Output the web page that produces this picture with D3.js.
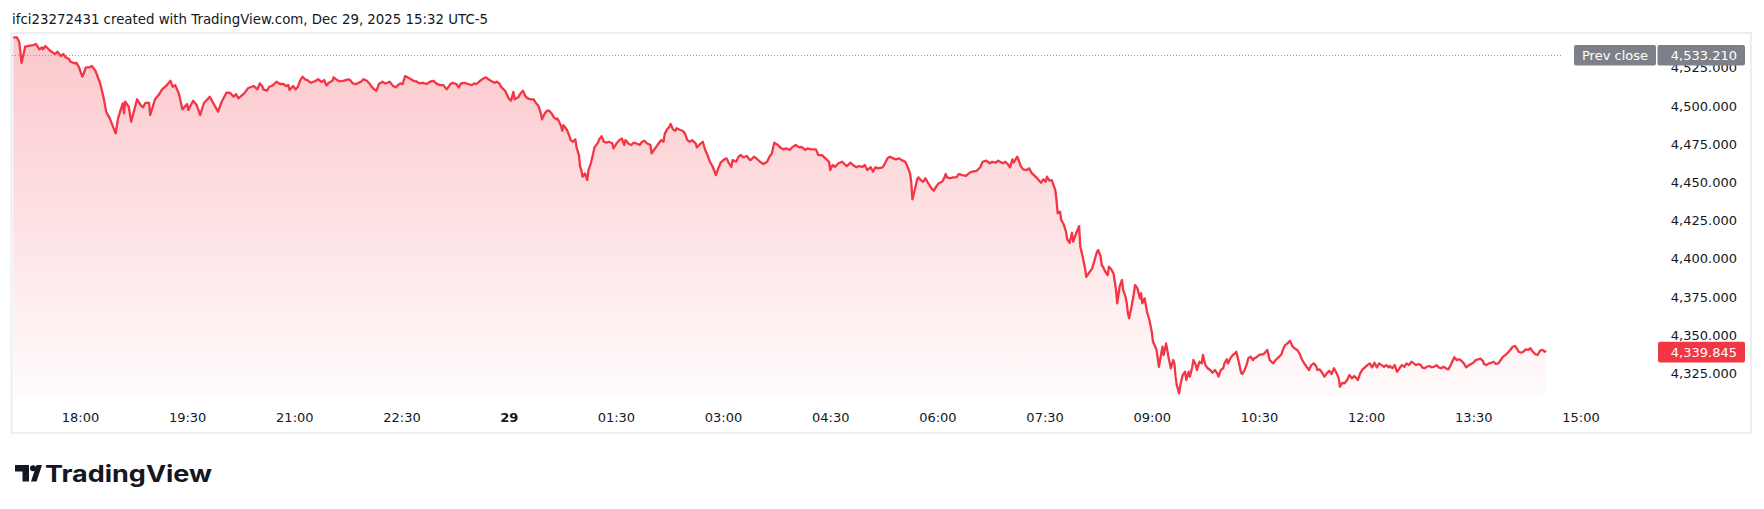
<!DOCTYPE html>
<html>
<head>
<meta charset="utf-8">
<script src="https://cdn.jsdelivr.net/npm/d3@7"></script>
<style>
  html, body { margin: 0; background: #ffffff; }
  svg { display: block; }
</style>
</head>
<body>
<div id="chart"></div>
<script>
// ---- data ------------------------------------------------------------------
// session starts Dec 28 17:00 (UTC-5); series = [minutes since start, price]
const sessionStart = new Date(2025, 11, 28, 17, 0);
const sessionEnd = new Date(2025, 11, 29, 15, 0);
const prevClose = 4533.21;
const lastPrice = 4339.845;
const priceTicks = [4325, 4350, 4375, 4400, 4425, 4450, 4475, 4500, 4525];
const timeLabels = ["18:00", "19:30", "21:00", "22:30", "29", "01:30", "03:00", "04:30",
  "06:00", "07:30", "09:00", "10:30", "12:00", "13:30", "15:00"];
const title = "ifci23272431 created with TradingView.com, Dec 29, 2025 15:32 UTC-5";

const series = [
  [4,4544.9],[7,4544.9],[9,4542.1],[11,4528.3],[14,4538.8],[17,4539.3],[21,4539.9],[23,4540.6],
  [26,4537.1],[28,4538.4],[29,4537.1],[31,4539.3],[35,4536.2],[39,4534.0],[41,4535.5],[44,4532.7],
  [46,4534.0],[48,4531.9],[51,4530.6],[52,4529.0],[56,4527.9],[57,4528.3],[59,4525.7],[62,4519.2],
  [63,4520.9],[65,4525.3],[68,4525.3],[70,4526.2],[73,4523.1],[77,4514.8],[80,4505.0],[82,4496.3],
  [85,4491.9],[90,4482.1],[92,4491.9],[95,4499.5],[96,4501.8],[97,4495.2],[98,4502.8],[101,4499.5],
  [103,4489.7],[106,4498.5],[108,4504.4],[111,4500.6],[113,4499.1],[115,4502.1],[118,4502.1],[119,4494.1],
  [123,4504.4],[126,4507.2],[129,4510.9],[133,4513.7],[136,4516.5],[138,4512.6],[140,4513.7],[143,4508.3],
  [146,4497.8],[150,4501.3],[151,4497.4],[155,4503.5],[158,4500.6],[161,4494.1],[164,4501.8],[169,4506.1],
  [172,4501.8],[176,4496.3],[179,4502.8],[183,4508.7],[186,4508.7],[189,4506.1],[191,4507.8],[193,4505.0],
  [198,4508.3],[201,4511.6],[206,4513.1],[209,4510.9],
  [211,4514.8],[213,4513.1],[214,4510.9],[217,4510.0],[219,4512.6],[221,4513.1],[223,4514.4],[225,4515.9],
  [228,4514.4],[231,4514.4],[233,4513.1],[235,4513.7],[236,4510.5],[239,4513.1],[241,4510.9],[243,4512.6],
  [245,4517.0],[247,4519.2],[249,4517.5],[251,4517.0],[254,4515.2],[256,4515.9],[258,4516.5],[260,4517.5],
  [263,4515.7],[265,4517.0],[267,4513.5],[269,4515.2],[272,4516.5],[273,4518.8],[276,4517.0],[278,4516.1],
  [281,4516.5],[283,4517.0],[285,4517.5],[287,4517.0],[289,4514.8],[292,4514.4],[294,4515.2],[296,4515.9],
  [298,4517.5],[301,4516.5],[303,4514.8],[305,4512.6],[307,4510.9],[309,4510.0],[311,4514.4],[314,4515.9],
  [316,4514.8],[318,4515.2],[320,4515.9],[323,4513.1],[325,4512.2],[327,4513.7],[329,4514.8],[331,4514.4],
  [333,4519.6],[335,4518.8],[338,4517.5],[340,4516.5],[343,4515.9],[345,4514.8],[348,4515.2],[351,4514.4],
  [354,4515.9],[357,4516.5],[359,4514.8],[362,4513.7],[365,4513.7],[368,4510.9],[371,4514.4],[373,4515.2],
  [376,4514.4],[378,4512.2],[380,4514.8],[383,4515.2],[386,4514.4],[389,4513.7],[391,4514.8],[393,4514.4],
  [396,4516.5],[399,4518.1],[401,4518.8],[403,4517.5],[405,4516.5],[408,4515.2],[410,4515.9],[412,4514.8],
  [414,4512.2],[417,4510.0],[418,4508.3],[420,4505.0],[422,4503.5],[424,4509.3],[425,4504.4],[428,4505.7],
  [430,4508.3],[432,4510.0],[434,4506.5],[436,4505.0],[438,4504.4],[441,4504.4],[443,4501.8],[445,4500.0],
  [447,4495.2],[448,4491.3],[450,4494.7],[452,4496.9],[454,4496.9],[456,4495.2],[458,4492.6],[460,4491.3],
  [461,4491.9],[464,4486.9],[465,4483.8],[466,4487.5],[469,4484.3],[471,4480.3],[472,4477.7],[474,4476.6],
  [476,4478.2],[477,4472.9],[479,4467.9],[480,4460.2],[481,4458.1],[482.5,4453.7],[484,4455.9],[486,4451.5],
  [487.5,4458.1],[489,4462.5],[491,4469.0],[492.5,4472.9],[495,4476.0],[496.5,4478.2],[498,4480.3],[500,4476.6],
  [502,4476.0],[504,4476.6],[507,4475.6],[508,4472.3],[511,4476.0],[513,4477.7],[515,4478.8],[517,4474.5],
  [518,4477.7],[521,4475.1],[523,4474.5],[525,4476.0],[527,4475.6],[530,4474.5],[532,4476.6],[534,4477.3],
  [536,4475.6],[539,4474.5],[540,4469.0],[542,4471.2],[543.5,4472.3],[546,4475.6],[548,4477.7],[550,4476.6],
  [551,4481.6],[553,4484.7],[555,4486.4],[556.5,4488.2],[558,4484.7],[560,4483.8],[561.5,4485.4],[564,4484.3],
  [566,4483.8],[568,4482.1],[570,4477.7],[572,4476.6],[574,4477.7],[577,4475.6],[578,4472.9],[580.5,4474.5],
  [583,4476.6],[585,4471.2],[587,4467.9],[589,4463.5],[591,4460.7],[593,4457.0],[594.5,4454.8],[596,4459.2],
  [598,4462.9],[601,4465.1],[603,4465.7],[605,4462.5],[607,4460.2],[608.5,4464.6],[611,4463.5],[613,4466.8],
  [615,4467.9],[617.5,4466.4],[620,4467.3],[622,4465.1],
  [623.5,4464.6],[626,4466.8],[628.5,4465.7],[631,4463.5],[634,4462.0],[637,4463.5],[639.5,4466.8],[641.5,4469.0],
  [643,4476.0],[646,4474.5],[648.5,4472.9],[651,4471.6],[653.5,4472.3],[656,4471.2],[658.5,4472.9],[661.5,4474.5],
  [664,4472.9],[666.5,4473.3],[669,4471.2],[671.5,4472.3],[674.5,4471.6],[678,4471.6],[680,4467.9],[683,4467.9],
  [686.5,4465.7],[689,4463.5],[690,4458.1],[692,4461.4],[694.5,4460.2],[697,4462.5],[700,4463.5],[702.5,4462.0],
  [704.5,4460.7],[707,4462.9],[709.5,4461.4],[712,4459.9],[714.5,4460.7],[717,4460.2],[719.5,4461.4],[721.5,4458.1],
  [724.5,4459.9],[726,4457.0],[728,4459.9],[730.5,4459.2],[734,4459.9],[736.5,4462.5],[738.5,4465.7],[740.5,4466.8],
  [743,4465.7],[745.5,4465.1],[748,4465.7],[750.5,4464.6],[753,4463.5],[755,4460.2],[757,4455.9],[758,4450.4],
  [759.5,4438.9],[761,4445.0],[763,4452.0],[764.5,4453.3],[766.5,4451.5],[768.5,4450.4],[770.5,4452.7],[772.5,4449.8],
  [775,4446.1],[777,4444.5],[779,4447.2],[781.5,4449.4],[784,4450.4],[786,4453.3],[787,4455.5],[788.5,4453.3],
  [791,4452.7],[793.5,4453.3],[796,4453.3],[798,4455.5],[801.5,4454.8],[804.5,4454.2],[807,4456.3],[809.5,4457.0],
  [813,4457.6],[816,4459.9],[818.5,4463.5],[821,4464.2],[824,4462.5],[826.5,4463.5],[829,4462.9],[831.5,4464.2],
  [835,4462.5],[837.5,4463.5],[839.5,4462.0],[841.5,4459.9],[843,4465.1],[844.5,4462.9],[847,4466.8],[848.5,4465.1],
  [850.5,4460.7],[852.5,4458.5],[855,4458.1],[857,4459.2],[859.5,4456.3],[861.5,4454.8],[863.5,4453.3],[865.5,4451.5],
  [867,4449.8],[869,4452.0],[871,4450.4],[872.5,4453.7],[874.5,4451.1],[876,4451.5],[877.5,4449.4],[879.5,4445.0],
  [880.5,4438.4],[881.5,4429.7],[883,4430.8],[884.5,4425.4],[886,4422.7],[888,4417.7],[889.5,4412.7],[891,4410.5],
  [893,4417.0],[894,4411.2],[895.5,4413.4],[897.5,4417.7],[899,4421.4],[900,4407.9],[902,4401.3],[903.5,4397.4],
  [904.5,4393.7],[905.5,4388.2],[907.5,4390.5],[909,4392.6],[910.5,4393.7],[912.5,4399.2],[914,4404.6],[915.5,4405.7],
  [917,4401.8],[918,4395.9],[919.5,4394.8],[921.5,4391.5],[923,4389.3],[924.5,4394.8],[926.5,4393.1],[928,4390.0],
  [930,4379.5],[931,4370.8],[932,4376.3],[933.5,4381.7],[935,4386.1],[936.5,4379.5],[938,4375.1],[939.5,4370.8],
  [940.5,4364.3],[941.5,4361.0],[943,4368.6],[945,4377.4],[946.5,4382.8],[948,4380.6],[950,4374.1],[951,4377.4],
  [952,4370.8],[954,4374.1],[955,4369.7],[956.5,4365.3],[958.5,4359.9],[960,4352.2],[961.5,4345.7],[963,4342.4],
  [964.5,4340.3],[965.5,4334.8],[966.5,4329.3],[968,4338.1],[969,4342.4],[970,4337.0],[972,4344.6],[973.5,4340.3],
  [974.5,4335.9],[976,4328.3],[978,4333.7],[979,4331.5],[980,4322.8],[981.5,4317.3],[983,4311.9],[984.5,4317.3],
  [986.5,4323.9],[988,4326.0],[989.5,4320.6],[991,4326.0],[992.5,4322.8],[994,4329.3],[995.5,4333.7],[997,4330.4],
  [998.5,4327.2],[1000.5,4332.6],[1002,4331.5],[1003.5,4337.0],[1005.5,4330.4],[1007,4328.3],[1009.5,4327.2],[1011.5,4325.4],
  [1013,4327.2],[1015,4325.0],[1016.5,4322.8],[1018,4327.2],[1020,4328.3],[1021.5,4331.5],[1023,4334.2],[1024.5,4331.5],
  [1026,4334.8],[1028.5,4337.0],[1030,4338.1],[1031.5,4339.1],[1033.5,4332.6],[1035,4325.4],[1036.5,4324.5],[1038.5,4327.2],
  [1040,4331.5],[1041.5,4334.8],[1043.5,4335.9],[1045,4333.7],[1046.5,4334.8],[1048.5,4335.5],[1050.5,4337.0],
  [1054,4337.6],[1057.5,4340.3],[1059,4333.7],[1062,4331.5],[1064.5,4333.7],[1067,4335.9],[1069,4337.6],[1070.5,4340.3],
  [1072.5,4343.5],[1074.5,4344.6],[1076,4346.3],[1078,4342.9],[1079.5,4342.0],[1082.5,4340.3],[1084.5,4338.1],[1086,4334.2],
  [1088,4331.5],[1090,4329.3],[1092,4327.2],[1094,4330.4],[1096,4331.5],[1098,4329.8],[1099.5,4327.2],[1101.5,4327.6],
  [1103.5,4325.4],[1105.5,4322.8],[1107.5,4325.0],[1109.5,4326.7],[1111,4324.5],[1113,4328.3],[1115,4325.4],[1117,4321.7],
  [1118.5,4316.2],[1120.5,4318.8],[1122,4318.5],[1124,4320.6],[1126,4323.9],[1128,4321.7],[1130,4323.2],[1132,4321.7],
  [1133.5,4320.6],[1135.5,4325.0],[1137.5,4327.6],[1139.5,4328.9],[1141.5,4330.4],[1143.5,4331.5],[1145.5,4328.9],[1147,4331.9],
  [1149,4328.9],[1151,4331.5],[1153,4330.4],[1155,4329.3],[1157,4330.4],[1159,4328.9],[1160.5,4329.8],[1162.5,4328.3],
  [1164.5,4330.4],[1166.5,4326.0],[1168.5,4328.3],[1170.5,4330.4],[1172.5,4329.3],[1174.5,4331.5],[1176,4330.4],[1178,4332.6],
  [1180,4331.5],[1182,4330.4],[1184,4331.1],[1186,4330.4],[1187.5,4328.9],[1189.5,4328.3],[1191.5,4329.3],[1193.5,4329.8],
  [1195.5,4328.9],[1197.5,4329.3],[1199.5,4330.4],[1201,4328.9],[1203,4328.3],[1205,4329.3],[1207,4328.3],[1209,4327.6],
  [1211,4330.4],[1213,4333.7],[1214.5,4335.5],[1216.5,4333.7],[1218.5,4334.2],[1220.5,4333.2],[1222.5,4331.5],[1224.5,4328.9],
  [1226,4330.2],[1228,4331.1],[1230,4331.9],[1232,4333.7],[1234,4334.2],[1236,4334.6],[1238,4333.2],[1239.5,4331.1],
  [1241.5,4330.4],[1243.5,4331.5],[1245.5,4331.9],[1247.5,4332.6],[1249.5,4331.1],[1251.5,4331.5],[1253.5,4333.7],[1255,4335.9],
  [1257,4337.0],[1259,4338.5],[1261,4340.3],[1263,4342.4],[1265,4342.9],[1267,4340.7],[1268.5,4339.1],[1270.5,4338.5],
  [1272.5,4339.1],[1274.5,4340.7],[1276.5,4340.3],[1278.5,4341.4],[1280,4339.1],[1282,4337.6],[1284,4337.0],[1286,4339.8],
  [1288,4340.3],[1290,4339.1],[1291,4339.845]
];

// ---- layout ----------------------------------------------------------------
const width = 1764, height = 509;
const frame = { left: 11.5, top: 33, right: 1751, bottom: 433 };
const pane = { left: 12, top: 33, right: 1562, bottom: 397 };
const RED = "#f23645";
const FONT = "'DejaVu Sans', sans-serif";

const data = series.map(([m, p]) => ({ date: d3.timeMinute.offset(sessionStart, m), price: p }));

const x = d3.scaleTime()
  .domain([sessionStart, sessionEnd])
  .range([8.5, 1580.5]);

const y = d3.scaleLinear()
  .domain([4309.5, 4547.8])
  .range([pane.bottom, pane.top]);

const svg = d3.select("#chart")
  .append("svg")
  .attr("width", width)
  .attr("height", height)
  .attr("viewBox", [0, 0, width, height])
  .attr("font-family", FONT);

svg.append("rect")
  .attr("width", width).attr("height", height)
  .attr("fill", "#ffffff");

// title
svg.append("text")
  .attr("x", 12).attr("y", 24)
  .attr("font-size", 13.35)
  .attr("fill", "#131722")
  .text(title);

// frame
svg.append("rect")
  .attr("x", frame.left).attr("y", frame.top)
  .attr("width", frame.right - frame.left)
  .attr("height", frame.bottom - frame.top)
  .attr("fill", "none")
  .attr("stroke", "#eceef2")
  .attr("stroke-width", 2);

const defs = svg.append("defs");
defs.append("clipPath").attr("id", "pane-clip")
  .append("rect")
  .attr("x", pane.left).attr("y", pane.top)
  .attr("width", pane.right - pane.left)
  .attr("height", pane.bottom - pane.top);

const grad = defs.append("linearGradient")
  .attr("id", "area-grad")
  .attr("gradientUnits", "userSpaceOnUse")
  .attr("x1", 0).attr("x2", 0)
  .attr("y1", pane.top).attr("y2", pane.bottom);
grad.append("stop").attr("offset", 0).attr("stop-color", RED).attr("stop-opacity", 0.28);
grad.append("stop").attr("offset", 1).attr("stop-color", RED).attr("stop-opacity", 0.02);

const plot = svg.append("g").attr("clip-path", "url(#pane-clip)");

const area = d3.area()
  .x(d => x(d.date))
  .y0(y(y.domain()[0]))
  .y1(d => y(d.price));

const line = d3.line()
  .x(d => x(d.date))
  .y(d => y(d.price));

plot.append("path")
  .datum(data)
  .attr("fill", "url(#area-grad)")
  .attr("d", area);

// previous close dotted line
plot.append("line")
  .attr("x1", pane.left).attr("x2", 1574)
  .attr("y1", Math.round(y(prevClose)) + 0.5)
  .attr("y2", Math.round(y(prevClose)) + 0.5)
  .attr("stroke", "#9598a1")
  .attr("stroke-width", 1)
  .attr("stroke-dasharray", "1,2");

plot.append("path")
  .datum(data)
  .attr("fill", "none")
  .attr("stroke", RED)
  .attr("stroke-width", 2.3)
  .attr("stroke-linejoin", "round")
  .attr("d", line);

// time axis
const firstTick = d3.timeHour.offset(sessionStart, 1);
const tickDates = timeLabels.map((_, i) => d3.timeMinute.offset(firstTick, i * 90));
const xAxis = svg.append("g")
  .attr("transform", `translate(0,404)`)
  .call(d3.axisBottom(x)
    .tickValues(tickDates)
    .tickSize(0)
    .tickPadding(8.5)
    .tickFormat((d, i) => timeLabels[i]))
  .call(g => g.select(".domain").remove());
xAxis.selectAll("text")
  .attr("font-family", FONT)
  .attr("font-size", 13)
  .attr("fill", "#131722")
  .attr("font-weight", (d, i) => timeLabels[i] === "29" ? "bold" : null);

// price axis
const fmt = d3.format(",.3f");
const yAxis = svg.append("g")
  .attr("transform", `translate(1737,0)`)
  .call(d3.axisRight(y)
    .tickValues(priceTicks)
    .tickSize(0)
    .tickPadding(0)
    .tickFormat(fmt))
  .call(g => g.select(".domain").remove());
yAxis.selectAll("text")
  .attr("text-anchor", "end")
  .attr("font-family", FONT)
  .attr("font-size", 13)
  .attr("fill", "#131722");

// prev close label
const pcY = y(prevClose);
const pcLabel = svg.append("g");
pcLabel.append("rect")
  .attr("x", 1574).attr("y", pcY - 10.3)
  .attr("width", 82).attr("height", 20.6)
  .attr("rx", 2)
  .attr("fill", "#7d8088");
pcLabel.append("rect")
  .attr("x", 1657.5).attr("y", pcY - 10.3)
  .attr("width", 87.5).attr("height", 20.6)
  .attr("rx", 2)
  .attr("fill", "#7d8088");
pcLabel.append("text")
  .attr("x", 1615).attr("y", pcY)
  .attr("dy", "0.36em")
  .attr("text-anchor", "middle")
  .attr("font-size", 13)
  .attr("fill", "#ffffff")
  .text("Prev close");
pcLabel.append("text")
  .attr("x", 1737).attr("y", pcY)
  .attr("dy", "0.36em")
  .attr("text-anchor", "end")
  .attr("font-size", 13)
  .attr("fill", "#ffffff")
  .text(fmt(prevClose));

// last price label
const lpY = y(lastPrice) + 1.5;
svg.append("rect")
  .attr("x", 1658).attr("y", lpY - 10.3)
  .attr("width", 87).attr("height", 20.6)
  .attr("rx", 2)
  .attr("fill", RED);
svg.append("text")
  .attr("x", 1737).attr("y", lpY)
  .attr("dy", "0.36em")
  .attr("text-anchor", "end")
  .attr("font-size", 13)
  .attr("fill", "#ffffff")
  .text(fmt(lastPrice));

// TradingView logo
const logo = svg.append("g").attr("fill", "#131722");
logo.append("path").attr("d", "M15,465H29V481.5H22.5V471.5H15Z");
logo.append("circle").attr("cx", 33).attr("cy", 468.2).attr("r", 3);
logo.append("path").attr("d", "M31,481.5L36.5,465H42L36.5,481.5Z");
logo.append("text")
  .attr("x", 45).attr("y", 481.5)
  .attr("font-family", "Inter, 'Noto Sans', sans-serif")
  .attr("font-weight", 700)
  .attr("font-size", 22.5)
  .attr("textLength", 167)
  .attr("lengthAdjust", "spacingAndGlyphs")
  .text("TradingView");
</script>
</body>
</html>
